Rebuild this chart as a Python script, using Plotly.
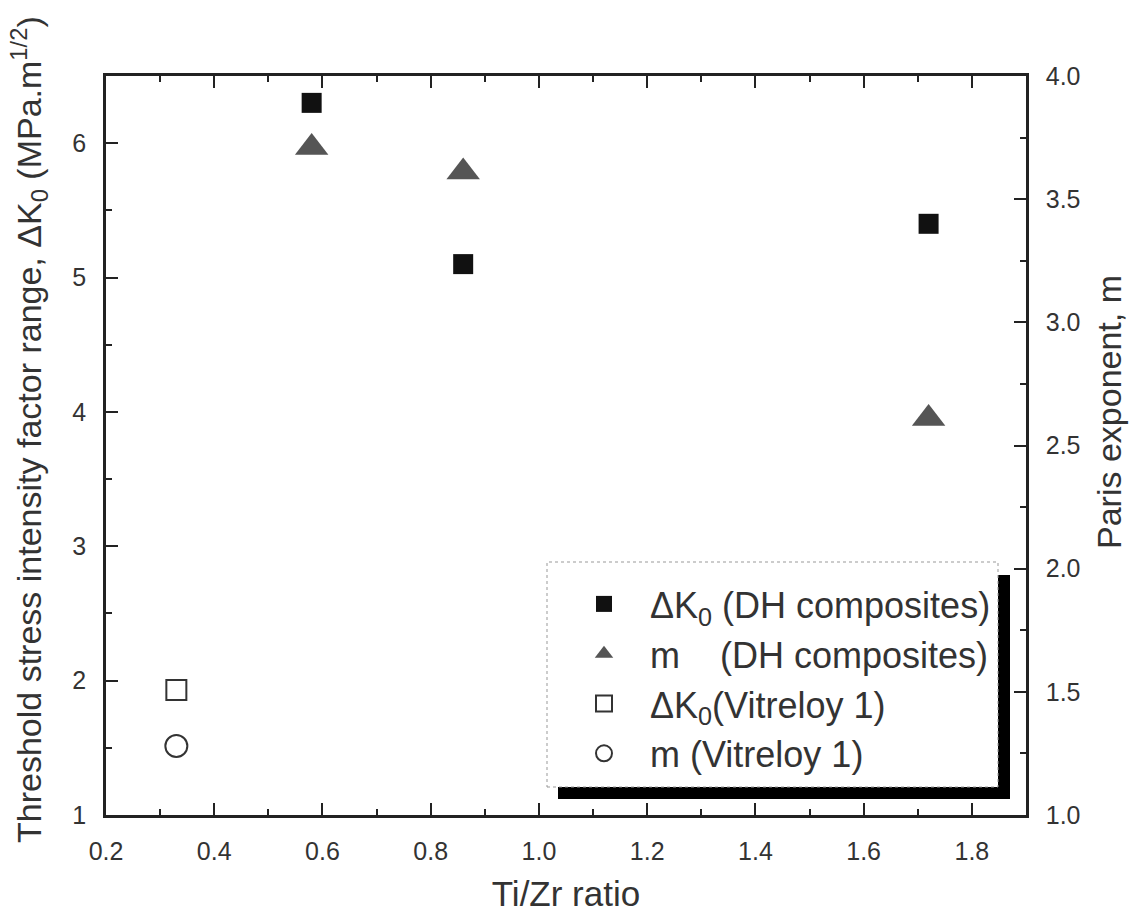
import plotly.graph_objects as go

# Data
dh_ratio = [0.58, 0.86, 1.72]
dh_dk0 = [6.3, 5.1, 5.4]
dh_m = [3.71, 3.61, 2.61]
vit_ratio = [0.33]
vit_dk0 = [1.93]
vit_m = [1.28]

x_ticks = [0.2, 0.4, 0.6, 0.8, 1.0, 1.2, 1.4, 1.6, 1.8]
y1_ticks = [1, 2, 3, 4, 5, 6]
y2_ticks = [1.0, 1.5, 2.0, 2.5, 3.0, 3.5, 4.0]

FONT = "Liberation Sans, Arial, sans-serif"
NB = "\u00a0"
TXT = "#333333"

# plot-area pixel frame
L, R, T, B = 106, 1026, 76, 815
W, H = R - L, B - T


def px(x):
    return (x - L) / W


def py(y):
    return (B - y) / H


fig = go.Figure()
fig.add_trace(go.Scatter(
    x=dh_ratio, y=dh_dk0, mode="markers", yaxis="y",
    marker=dict(symbol="square", size=20, color="#111111"),
    name="ΔK<sub>0</sub>" + NB + "(DH composites)"))
fig.add_trace(go.Scatter(
    x=dh_ratio, y=dh_m, mode="markers", yaxis="y2",
    marker=dict(symbol="triangle-up", size=29, color="#555555"),
    name="m" + NB * 4 + "(DH composites)"))
fig.add_trace(go.Scatter(
    x=vit_ratio, y=vit_dk0, mode="markers", yaxis="y",
    marker=dict(symbol="square-open", size=20, color="#333333", line=dict(width=2)),
    name="ΔK<sub>0</sub>(Vitreloy 1)"))
fig.add_trace(go.Scatter(
    x=vit_ratio, y=vit_m, mode="markers", yaxis="y2",
    marker=dict(symbol="circle-open", size=22, color="#333333", line=dict(width=2)),
    name="m" + NB + "(Vitreloy 1)"))

axis_common = dict(
    showline=True, linecolor="#222222", linewidth=2.5,
    ticks="inside", tickcolor="#222222", ticklen=12, tickwidth=1.5,
    showgrid=False, zeroline=False, automargin=False,
    tickfont=dict(family=FONT, size=25, color=TXT),
    ticklabelstandoff=12,
)

fig.update_layout(
    width=1130, height=913,
    margin=dict(l=L, r=1130 - R, t=T, b=913 - B, autoexpand=False),
    paper_bgcolor="white", plot_bgcolor="white",
    font=dict(family=FONT, color=TXT),
    xaxis=dict(
        range=[0.2, 1.9], tickvals=x_ticks, ticktext=[f"{v:.1f}" for v in x_ticks],
        mirror="ticks",
        minor=dict(dtick=0.1, tick0=0.2, ticks="inside", ticklen=6, tickcolor="#222222"),
        title=dict(text="Ti/Zr ratio", font=dict(family=FONT, size=35, color=TXT), standoff=20),
        **axis_common),
    yaxis=dict(
        range=[1, 6.5], tickvals=y1_ticks,
        minor=dict(dtick=0.5, tick0=1, ticks="inside", ticklen=6, tickcolor="#222222"),
        **axis_common),
    yaxis2=dict(
        range=[1, 4], tickvals=y2_ticks, ticktext=[f"{v:.1f}" for v in y2_ticks],
        overlaying="y", side="right",
        minor=dict(dtick=0.25, tick0=1, ticks="inside", ticklen=6, tickcolor="#222222"),
        **axis_common),
    showlegend=True,
    legend=dict(
        x=px(558), y=py(574), xanchor="left", yanchor="top",
        bgcolor="rgba(0,0,0,0)", borderwidth=0,
        font=dict(family=FONT, size=36, color=TXT),
        itemwidth=82,
        itemsizing="trace",
    ),
)

# y-axis titles
fig.add_annotation(
    xref="paper", yref="paper", x=px(29), y=py(430), xanchor="center", yanchor="middle",
    textangle=-90, showarrow=False,
    text="Threshold stress intensity factor range, ΔK<sub>0</sub> (MPa.m<sup>1/2</sup>)",
    font=dict(family=FONT, size=34, color=TXT))
fig.add_annotation(
    xref="paper", yref="paper", x=px(1109), y=py(412), xanchor="center", yanchor="middle",
    textangle=-90, showarrow=False,
    text="Paris exponent, m",
    font=dict(family=FONT, size=34, color=TXT))

# Legend frame and drop shadow
fig.add_shape(type="rect", xref="paper", yref="paper",
              x0=px(998), x1=px(1010), y0=py(799), y1=py(575),
              fillcolor="black", line=dict(width=0), layer="above")
fig.add_shape(type="rect", xref="paper", yref="paper",
              x0=px(558), x1=px(1010), y0=py(799), y1=py(787),
              fillcolor="black", line=dict(width=0), layer="above")
fig.add_shape(type="rect", xref="paper", yref="paper",
              x0=px(547), x1=px(998), y0=py(787), y1=py(562),
              fillcolor="white", line=dict(width=1, color="#999999", dash="dot"), layer="above")

fig.write_html("out.html")
